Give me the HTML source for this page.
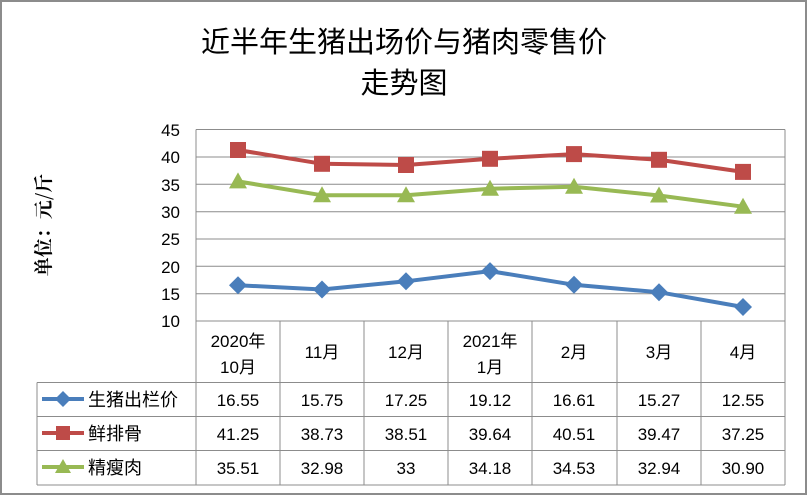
<!DOCTYPE html>
<html><head><meta charset="utf-8"><style>
body{margin:0;background:#fff}
svg{display:block}
text{font-family:"Liberation Sans","Noto Sans CJK SC",sans-serif;fill:#000}
</style></head><body>
<svg width="808" height="496" viewBox="0 0 808 496" xmlns="http://www.w3.org/2000/svg">
<rect x="1" y="1" width="805" height="493" fill="#fff" stroke="#8c8c8c" stroke-width="2"/>
<text x="404" y="52" font-size="29" text-anchor="middle" style="font-family:'Noto Sans CJK SC',sans-serif">近半年生猪出场价与猪肉零售价</text>
<text x="404" y="93" font-size="29" text-anchor="middle" style="font-family:'Noto Sans CJK SC',sans-serif">走势图</text>
<text transform="translate(50,225) rotate(-90)" font-size="19" text-anchor="middle" style="font-family:'Noto Serif CJK SC',serif;font-weight:bold">单位：元/斤</text>
<g stroke="#8c8c8c" stroke-width="1">
<line x1="196" y1="129.5" x2="785" y2="129.5"/>
<line x1="196" y1="157" x2="785" y2="157"/>
<line x1="196" y1="184.3" x2="785" y2="184.3"/>
<line x1="196" y1="211.7" x2="785" y2="211.7"/>
<line x1="196" y1="239" x2="785" y2="239"/>
<line x1="196" y1="266.3" x2="785" y2="266.3"/>
<line x1="196" y1="293.7" x2="785" y2="293.7"/>
<line x1="196" y1="129.5" x2="196" y2="485"/>
<line x1="785" y1="129.5" x2="785" y2="485"/>
<line x1="196" y1="321" x2="785" y2="321"/>
<line x1="37" y1="382.5" x2="785" y2="382.5"/>
<line x1="37" y1="416.5" x2="785" y2="416.5"/>
<line x1="37" y1="450.5" x2="785" y2="450.5"/>
<line x1="37" y1="485" x2="785" y2="485"/>
<line x1="37" y1="382.5" x2="37" y2="485"/>
<line x1="280" y1="321" x2="280" y2="485"/>
<line x1="364" y1="321" x2="364" y2="485"/>
<line x1="448" y1="321" x2="448" y2="485"/>
<line x1="532" y1="321" x2="532" y2="485"/>
<line x1="617" y1="321" x2="617" y2="485"/>
<line x1="701" y1="321" x2="701" y2="485"/>
</g>
<g font-size="17" text-anchor="end">
<text x="180" y="136">45</text><text x="180" y="163">40</text><text x="180" y="191">35</text>
<text x="180" y="218">30</text><text x="180" y="245">25</text><text x="180" y="273">20</text>
<text x="180" y="300">15</text><text x="180" y="327">10</text>
</g>
<g font-size="17" text-anchor="middle">
<text x="238" y="347">2020年</text><text x="238" y="373">10月</text>
<text x="322" y="358">11月</text><text x="406" y="358">12月</text>
<text x="490" y="347">2021年</text><text x="490" y="373">1月</text>
<text x="574" y="358">2月</text><text x="659" y="358">3月</text><text x="743" y="358">4月</text>
<g>
<text x="238" y="406">16.55</text><text x="322" y="406">15.75</text><text x="406" y="406">17.25</text><text x="490" y="406">19.12</text><text x="574" y="406">16.61</text><text x="659" y="406">15.27</text><text x="743" y="406">12.55</text>
<text x="238" y="440">41.25</text><text x="322" y="440">38.73</text><text x="406" y="440">38.51</text><text x="490" y="440">39.64</text><text x="574" y="440">40.51</text><text x="659" y="440">39.47</text><text x="743" y="440">37.25</text>
<text x="238" y="474">35.51</text><text x="322" y="474">32.98</text><text x="406" y="474">33</text><text x="490" y="474">34.18</text><text x="574" y="474">34.53</text><text x="659" y="474">32.94</text><text x="743" y="474">30.90</text>
</g>
</g>
<g font-size="18">
<text x="88" y="406">生猪出栏价</text><text x="88" y="440">鲜排骨</text><text x="88" y="474">精瘦肉</text>
</g>
<line x1="42" y1="399" x2="84" y2="399" stroke="#4a7ebb" stroke-width="4"/>
<polygon points="63,391 71,399 63,407 55,399" fill="#4a7ebb"/>
<line x1="42" y1="433" x2="84" y2="433" stroke="#be4b48" stroke-width="4"/>
<rect x="56" y="426" width="14" height="14" fill="#be4b48"/>
<line x1="42" y1="467" x2="84" y2="467" stroke="#98b954" stroke-width="4"/>
<polygon points="63,459 71,473 55,473" fill="#98b954"/>
<polyline fill="none" stroke="#be4b48" stroke-width="4" points="238,150 322,163.8 406,165 490,158.8 574,154.1 659,159.8 743,171.9"/>
<polyline fill="none" stroke="#98b954" stroke-width="4" points="238,181.4 322,195.3 406,195.2 490,188.7 574,186.8 659,195.5 743,206.7"/>
<polyline fill="none" stroke="#4a7ebb" stroke-width="4" points="238,285.2 322,289.5 406,281.3 490,271.1 574,284.8 659,292.2 743,307"/>
<g fill="#be4b48">
<rect x="230" y="142" width="16" height="16"/><rect x="314" y="155.8" width="16" height="16"/><rect x="398" y="157" width="16" height="16"/><rect x="482" y="150.8" width="16" height="16"/><rect x="566" y="146.1" width="16" height="16"/><rect x="651" y="151.8" width="16" height="16"/><rect x="735" y="163.9" width="16" height="16"/>
</g>
<g fill="#98b954">
<polygon points="238,172.4 247,188.4 229,188.4"/><polygon points="322,186.3 331,202.3 313,202.3"/><polygon points="406,186.2 415,202.2 397,202.2"/><polygon points="490,179.7 499,195.7 481,195.7"/><polygon points="574,177.8 583,193.8 565,193.8"/><polygon points="659,186.5 668,202.5 650,202.5"/><polygon points="743,197.7 752,213.7 734,213.7"/>
</g>
<g fill="#4a7ebb">
<polygon points="238,276.2 247,285.2 238,294.2 229,285.2"/><polygon points="322,280.5 331,289.5 322,298.5 313,289.5"/><polygon points="406,272.3 415,281.3 406,290.3 397,281.3"/><polygon points="490,262.1 499,271.1 490,280.1 481,271.1"/><polygon points="574,275.8 583,284.8 574,293.8 565,284.8"/><polygon points="659,283.2 668,292.2 659,301.2 650,292.2"/><polygon points="743,298 752,307 743,316 734,307"/>
</g>
</svg>
</body></html>
